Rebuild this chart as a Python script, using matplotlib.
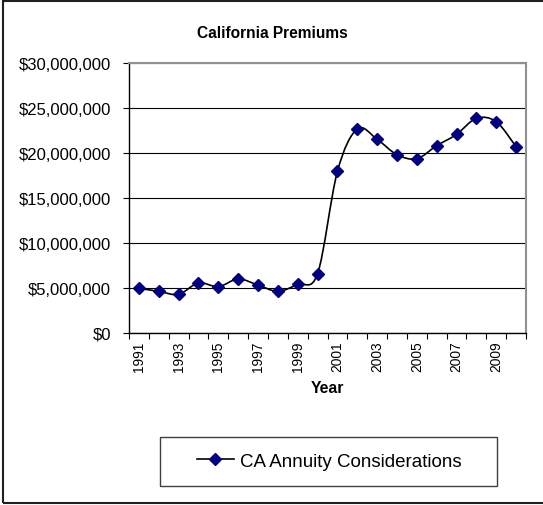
import matplotlib
matplotlib.use("Agg")
import matplotlib.pyplot as plt
from matplotlib.path import Path
from matplotlib.patches import PathPatch, Rectangle
from matplotlib.lines import Line2D
from matplotlib.ticker import FuncFormatter
import numpy as np

plt.rcParams['font.family'] = ['Liberation Sans', 'DejaVu Sans']

years = list(range(1991, 2011))
premiums = [4.96e6, 4.63e6, 4.30e6, 5.56e6, 5.15e6, 6.00e6, 5.33e6, 4.63e6, 5.41e6, 6.59e6,
            17.96e6, 22.67e6, 21.52e6, 19.81e6, 19.37e6, 20.81e6, 22.07e6, 23.85e6, 23.48e6, 20.70e6]
year_labels = [str(y) for y in years]
series_name = "CA Annuity Considerations"
title = "California Premiums"
x_title = "Year"

W, H = 543, 506
fig = plt.figure(figsize=(W / 100, H / 100), dpi=100)
fig.patch.set_facecolor('white')

def fx(px):
    return px / W

def fy(py):
    return 1 - py / H

left, right, top, bottom = 129, 526, 64, 334
ax = fig.add_axes([fx(left), fy(bottom), (right - left) / W, (bottom - top) / H])

x = np.arange(len(years))
y = np.array(premiums, dtype=float)

# Excel-style smoothed line via cubic Bezier segments
verts = [(x[0], y[0])]
codes = [Path.MOVETO]
n = len(x)
for i in range(n - 1):
    p0 = np.array([x[max(i - 1, 0)], y[max(i - 1, 0)]])
    p1 = np.array([x[i], y[i]])
    p2 = np.array([x[i + 1], y[i + 1]])
    p3 = np.array([x[min(i + 2, n - 1)], y[min(i + 2, n - 1)]])
    c1 = p1 + (p2 - p0) / 6.0
    c2 = p2 - (p3 - p1) / 6.0
    verts += [tuple(c1), tuple(c2), tuple(p2)]
    codes += [Path.CURVE4, Path.CURVE4, Path.CURVE4]
ax.add_patch(PathPatch(Path(verts, codes), facecolor='none', edgecolor='black', lw=1.2, zorder=3))
ax.plot(x, y, linestyle='none', marker='D', markersize=6.0, color='#000080',
        markeredgecolor='#000080', zorder=4)

ax.set_xlim(-0.5, len(years) - 0.5)
ax.set_ylim(0, 30e6)
ax.set_yticks(np.arange(0, 30e6 + 1, 5e6))
ax.yaxis.set_major_formatter(FuncFormatter(lambda v, p: "${:,.0f}".format(v)))
ax.tick_params(axis='y', direction='out', length=4, width=0.8, labelsize=12, pad=9, colors='black')

ax.set_xticks(x[::2])
ax.set_xticklabels(year_labels[::2], rotation=90, fontsize=9.9)
ax.set_xticks(np.arange(-0.5, len(years), 1.0), minor=True)
ax.tick_params(axis='x', which='major', length=0, pad=5.5)
ax.tick_params(axis='x', which='minor', direction='out', length=4, width=0.8)

ax.set_axisbelow(True)
ax.grid(axis='y', color='black', lw=0.8)
ax.grid(axis='x', visible=False)
for s in ['left', 'bottom']:
    ax.spines[s].set_color('black')
    ax.spines[s].set_linewidth(1.0)
for s in ['top', 'right']:
    ax.spines[s].set_color('#909090')
    ax.spines[s].set_linewidth(1.5)

fig.text(fx(272.5), fy(33), title, ha='center', va='center', fontsize=11.2, fontweight='bold')
fig.text(fx(327), fy(389), x_title, ha='center', va='center', fontsize=11.3, fontweight='bold')

# Legend frame and content
fig.patches.append(Rectangle((fx(160), fy(487)), (497 - 160) / W, (487 - 437.5) / H,
                             transform=fig.transFigure, facecolor='none', edgecolor='#404040',
                             lw=1.0, figure=fig))
handle = Line2D([], [], color='black', lw=1.2, marker='D', markersize=6.0,
                markerfacecolor='#000080', markeredgecolor='#000080')
fig.legend([handle], [series_name], loc='center', bbox_to_anchor=(fx(329.5), fy(462)),
           frameon=False, fontsize=13.5, handlelength=1.95, handletextpad=0.35, borderpad=0)

# Outer chart border
fig.patches.append(Rectangle((fx(3), fy(504)), (W + 5 - 3) / W, (504 - 1.5) / H,
                             transform=fig.transFigure, facecolor='none', edgecolor='#202020',
                             lw=1.5, figure=fig))

fig.savefig('out.png', dpi=100)
